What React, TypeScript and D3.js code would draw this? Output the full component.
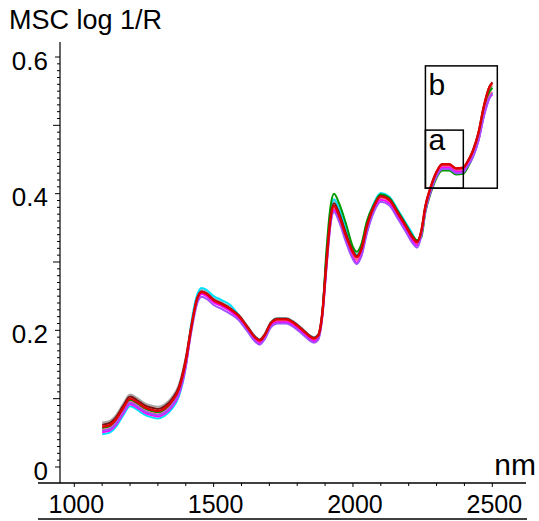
import React from 'react';
import * as d3 from 'd3';

// wavelengths (nm) shared by all spectra
const wavelengths = [
  1100, 1125, 1150, 1175, 1200, 1225, 1250, 1275, 1300, 1325, 1350, 1375, 1400,
  1420, 1440, 1457, 1475, 1500, 1530, 1560,
  1590, 1620, 1650, 1665, 1685, 1705, 1730, 1760, 1790, 1820, 1845, 1860, 1875, 1890,
  1905, 1920, 1932, 1950, 1975,
  2000, 2013, 2030, 2050,
  2075, 2100, 2130, 2160, 2190, 2215, 2230,
  2245, 2260, 2280, 2300, 2320, 2345, 2370, 2395, 2410,
  2430, 2450, 2470, 2490, 2500,
];

const graySpec = [
  0.065, 0.067, 0.076, 0.092, 0.106, 0.101, 0.094, 0.090, 0.088, 0.092, 0.102, 0.120, 0.161,
  0.208, 0.248, 0.259, 0.256, 0.247, 0.241, 0.234,
  0.223, 0.207, 0.191, 0.187, 0.196, 0.212, 0.218, 0.218, 0.212, 0.202, 0.193, 0.190, 0.194, 0.227,
  0.308, 0.373, 0.390, 0.376, 0.346,
  0.318, 0.311, 0.322, 0.356,
  0.383, 0.398, 0.393, 0.374, 0.354, 0.337, 0.331,
  0.344, 0.381, 0.410, 0.431, 0.442, 0.442, 0.436, 0.437, 0.445,
  0.460, 0.485, 0.525, 0.552, 0.558,
];

const cyanSpec = [
  0.048, 0.050, 0.059, 0.075, 0.089, 0.084, 0.077, 0.073, 0.071, 0.075, 0.085, 0.103, 0.146,
  0.211, 0.251, 0.262, 0.259, 0.250, 0.244, 0.237,
  0.222, 0.206, 0.190, 0.186, 0.195, 0.211, 0.217, 0.217, 0.211, 0.201, 0.192, 0.189, 0.193, 0.226,
  0.310, 0.375, 0.392, 0.378, 0.348,
  0.317, 0.310, 0.321, 0.355,
  0.386, 0.401, 0.396, 0.377, 0.357, 0.340, 0.326,
  0.339, 0.376, 0.405, 0.426, 0.437, 0.437, 0.431, 0.432, 0.440,
  0.454, 0.478, 0.516, 0.542, 0.548,
];

const greenSpec = [
  0.057, 0.059, 0.068, 0.084, 0.098, 0.093, 0.086, 0.082, 0.080, 0.084, 0.094, 0.112, 0.153,
  0.203, 0.243, 0.254, 0.251, 0.242, 0.236, 0.229,
  0.219, 0.203, 0.187, 0.183, 0.192, 0.208, 0.214, 0.214, 0.208, 0.198, 0.189, 0.186, 0.190, 0.223,
  0.318, 0.383, 0.400, 0.386, 0.356,
  0.322, 0.315, 0.326, 0.360,
  0.384, 0.399, 0.394, 0.375, 0.355, 0.338, 0.332,
  0.336, 0.373, 0.402, 0.423, 0.434, 0.434, 0.428, 0.429, 0.437,
  0.454, 0.481, 0.521, 0.549, 0.555,
];

const pinkSpec = [
  0.054, 0.056, 0.065, 0.081, 0.095, 0.090, 0.083, 0.079, 0.077, 0.081, 0.091, 0.109, 0.150,
  0.203, 0.243, 0.254, 0.251, 0.242, 0.236, 0.229,
  0.219, 0.203, 0.187, 0.183, 0.192, 0.208, 0.214, 0.214, 0.208, 0.198, 0.189, 0.186, 0.190, 0.223,
  0.297, 0.362, 0.379, 0.365, 0.335,
  0.310, 0.303, 0.314, 0.348,
  0.379, 0.394, 0.389, 0.370, 0.350, 0.333, 0.327,
  0.342, 0.379, 0.408, 0.429, 0.440, 0.440, 0.434, 0.435, 0.443,
  0.456, 0.479, 0.517, 0.543, 0.549,
];

const magentaSpec = [
  0.051, 0.053, 0.062, 0.078, 0.092, 0.087, 0.080, 0.076, 0.074, 0.078, 0.088, 0.106, 0.147,
  0.202, 0.242, 0.253, 0.250, 0.241, 0.235, 0.228,
  0.217, 0.201, 0.185, 0.181, 0.190, 0.206, 0.212, 0.212, 0.206, 0.196, 0.187, 0.184, 0.188, 0.221,
  0.294, 0.359, 0.376, 0.362, 0.332,
  0.306, 0.299, 0.310, 0.344,
  0.376, 0.391, 0.386, 0.367, 0.347, 0.330, 0.324,
  0.340, 0.377, 0.406, 0.427, 0.438, 0.438, 0.432, 0.433, 0.441,
  0.454, 0.477, 0.514, 0.540, 0.545,
];

const purpleSpec = [
  0.053, 0.055, 0.064, 0.080, 0.094, 0.089, 0.082, 0.078, 0.076, 0.080, 0.090, 0.108, 0.149,
  0.198, 0.238, 0.249, 0.246, 0.237, 0.231, 0.224,
  0.215, 0.199, 0.183, 0.179, 0.188, 0.204, 0.210, 0.210, 0.204, 0.194, 0.185, 0.182, 0.186, 0.219,
  0.291, 0.356, 0.373, 0.359, 0.329,
  0.304, 0.297, 0.308, 0.342,
  0.373, 0.388, 0.383, 0.364, 0.344, 0.327, 0.321,
  0.338, 0.375, 0.404, 0.425, 0.436, 0.436, 0.430, 0.431, 0.439,
  0.453, 0.477, 0.514, 0.540, 0.546,
];

const darkRedSpec = [
  0.062, 0.064, 0.073, 0.089, 0.103, 0.098, 0.091, 0.087, 0.085, 0.089, 0.099, 0.117, 0.158,
  0.206, 0.246, 0.257, 0.254, 0.245, 0.239, 0.232,
  0.222, 0.206, 0.190, 0.186, 0.195, 0.211, 0.217, 0.217, 0.211, 0.201, 0.192, 0.189, 0.193, 0.226,
  0.304, 0.369, 0.386, 0.372, 0.342,
  0.316, 0.309, 0.320, 0.354,
  0.382, 0.397, 0.392, 0.373, 0.353, 0.336, 0.330,
  0.345, 0.382, 0.411, 0.432, 0.443, 0.443, 0.437, 0.438, 0.446,
  0.463, 0.489, 0.529, 0.557, 0.563,
];

const redSpec = [
  0.059, 0.061, 0.070, 0.086, 0.100, 0.095, 0.088, 0.084, 0.082, 0.086, 0.096, 0.114, 0.155,
  0.205, 0.245, 0.256, 0.253, 0.244, 0.238, 0.231,
  0.221, 0.205, 0.189, 0.185, 0.194, 0.210, 0.216, 0.216, 0.210, 0.200, 0.191, 0.188, 0.192, 0.225,
  0.300, 0.365, 0.382, 0.368, 0.338,
  0.314, 0.307, 0.318, 0.352,
  0.381, 0.396, 0.391, 0.372, 0.352, 0.335, 0.329,
  0.345, 0.382, 0.411, 0.432, 0.443, 0.443, 0.437, 0.438, 0.446,
  0.462, 0.488, 0.528, 0.556, 0.562,
];

// drawing order: last one ends on top
const spectra = [graySpec, cyanSpec, greenSpec, pinkSpec, magentaSpec, purpleSpec, darkRedSpec, redSpec];
const spectraColors = ['#a8a8a8', '#00e0ff', '#009a00', '#ff5a8c', '#ff00ff', '#a050ff', '#7a1010', '#e00000'];

// zoom boxes (data coords)
const boxLabels = ['b', 'a'];
const boxNmFrom = [2260, 2260];
const boxNmTo = [2518, 2396];
const boxValFrom = [0.408, 0.408];
const boxValTo = [0.587, 0.493];

const xTickLabels = [1000, 1500, 2000, 2500];
const yTickLabels = [0, 0.2, 0.4, 0.6];

const W = 539;
const H = 521;
const FONT = 'Liberation Sans, Arial, sans-serif';

export default function App() {
  const x = d3.scaleLinear().domain([1000, 2500]).range([74.3, 492.3]);
  const y = d3.scaleLinear().domain([0, 0.6]).range([467, 57]);

  const axisX = 60;
  const axisY = 483;

  const line = d3
    .line<number>()
    .x((_, i) => x(wavelengths[i]))
    .y((d) => y(d))
    .curve(d3.curveMonotoneX);

  // minor ticks every 0.01 on the value axis
  const yMinor = d3.range(0, 61).map((i) => i / 100);
  const xMinor = d3.range(1000, 2501, 100);

  return (
    <svg
      width={W}
      height={H}
      style={{ position: 'absolute', left: 0, top: 0, background: '#fff' }}
      fontFamily={FONT}
    >
      <rect x={0} y={0} width={W} height={H} fill="#fff" />

      {/* spectra */}
      {spectra.map((s, i) => (
        <path
          key={i}
          d={line(s) || ''}
          fill="none"
          stroke={spectraColors[i]}
          strokeWidth={i === spectra.length - 1 ? 2.4 : 2}
          strokeLinejoin="round"
        />
      ))}

      {/* boxes */}
      {boxLabels.map((lab, i) => (
        <g key={lab}>
          <rect
            x={x(boxNmFrom[i])}
            y={y(boxValTo[i])}
            width={x(boxNmTo[i]) - x(boxNmFrom[i])}
            height={y(boxValFrom[i]) - y(boxValTo[i])}
            fill="none"
            stroke="#000"
            strokeWidth={1.5}
          />
          <text
            x={x(boxNmFrom[i]) + 3}
            y={y(boxValTo[i]) + (lab === 'b' ? 29 : 20)}
            fontSize={30}
            fill="#000"
          >
            {lab}
          </text>
        </g>
      ))}

      {/* y axis */}
      <line x1={axisX} x2={axisX} y1={42} y2={axisY} stroke="#000" strokeWidth={1.2} />
      {yMinor.map((v, i) => {
        const len = i % 20 === 0 ? 5 : i % 10 === 0 ? 7 : 3;
        return (
          <line key={i} x1={axisX - len} x2={axisX} y1={y(v)} y2={y(v)} stroke="#000" strokeWidth={1} />
        );
      })}
      {yTickLabels.map((v) => (
        <text key={v} x={48} y={y(v) + 12.5} textAnchor="end" fontSize={26} fill="#000">
          {v === 0 ? '0' : v.toFixed(1)}
        </text>
      ))}

      {/* x axis */}
      <line x1={38} x2={526} y1={axisY} y2={axisY} stroke="#000" strokeWidth={1.3} />
      {xMinor.map((v) => (
        <line
          key={v}
          x1={x(v)}
          x2={x(v)}
          y1={axisY}
          y2={axisY + (v % 500 === 0 ? 4 : 3)}
          stroke="#000"
          strokeWidth={1}
        />
      ))}
      {xTickLabels.map((v) => (
        <text key={v} x={x(v) + 2} y={513} textAnchor="middle" fontSize={25} fill="#000">
          {v}
        </text>
      ))}
      <line x1={38} x2={527} y1={519} y2={519} stroke="#000" strokeWidth={1.6} />

      {/* titles */}
      <text x={9} y={29} fontSize={27} fill="#000">
        MSC log 1/R
      </text>
      <text x={536} y={475} textAnchor="end" fontSize={30} fill="#000">
        nm
      </text>
    </svg>
  );
}
